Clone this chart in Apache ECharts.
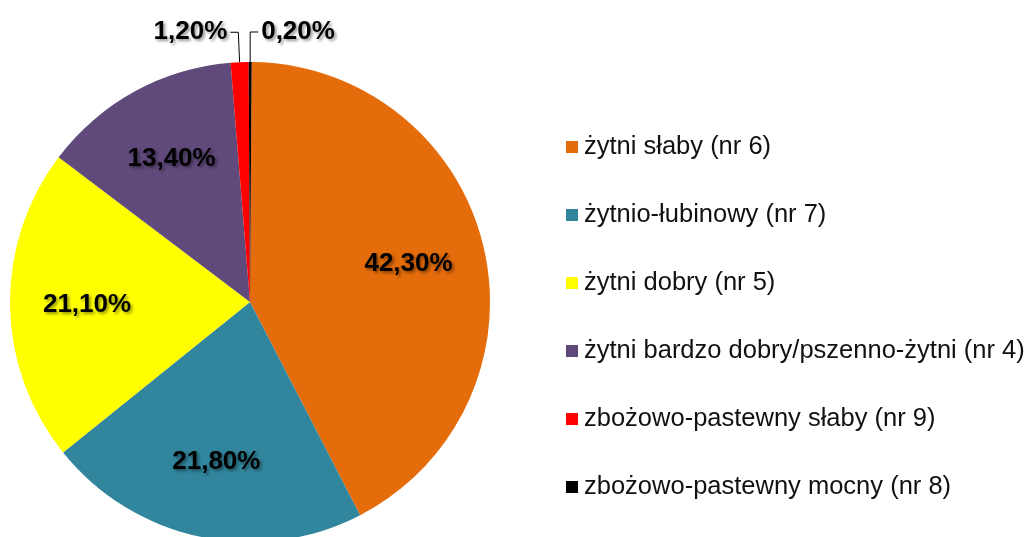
<!DOCTYPE html>
<html>
<head>
<meta charset="utf-8">
<script src="https://cdn.jsdelivr.net/npm/echarts@6/dist/echarts.min.js"></script>
<style>
  html, body { margin: 0; padding: 0; background: #fff; }
  #chart { width: 1027px; height: 537px; }
</style>
</head>
<body>
<div id="chart"></div>
<script>
// kompleksy glebowe - udzial procentowy
const categories = [
  'żytni słaby (nr 6)',
  'żytnio-łubinowy (nr 7)',
  'żytni dobry (nr 5)',
  'żytni bardzo dobry/pszenno-żytni (nr 4)',
  'zbożowo-pastewny słaby (nr 9)',
  'zbożowo-pastewny mocny (nr 8)'
];
const values = [42.3, 21.8, 21.1, 13.4, 1.2, 0.2];
const colors = ['#E46C0A', '#31859C', '#FFFF00', '#604A7B', '#FF0000', '#000000'];
// which slices get their label inside (big ones) vs outside with a line
const insideLabel = [true, true, true, true, false, false];

const fmt = function (p) {
  return p.value.toFixed(2).replace('.', ',') + '%';
};

const labelFont = {
  fontFamily: 'Liberation Sans, Arial, sans-serif',
  fontSize: 26,
  fontWeight: 'bold',
  color: '#000',
  textShadowColor: 'rgba(0,0,0,0.4)',
  textShadowBlur: 3,
  textShadowOffsetX: 2,
  textShadowOffsetY: 2
};

const pieData = categories.map(function (name, i) {
  return {
    name: name,
    value: values[i],
    itemStyle: { color: colors[i] },
    label: { show: !insideLabel[i] },
    labelLine: { show: !insideLabel[i] }
  };
});

// transparent ring on top only to place the inside labels further out
const labelData = categories.map(function (name, i) {
  return {
    name: name,
    value: values[i],
    label: { show: insideLabel[i] }
  };
});

const myChart = echarts.init(document.getElementById('chart'));
const option = {
  animation: false,
  legend: {
    orient: 'vertical',
    left: 561,
    top: 129,
    data: categories,
    icon: 'rect',
    itemWidth: 12,
    itemHeight: 12,
    itemGap: 42,
    textStyle: {
      fontFamily: 'Liberation Sans, Arial, sans-serif',
      fontSize: 25.5,
      color: '#111',
      padding: [0, 0, 0, 1]
    }
  },
  series: [
    {
      name: 'gleby',
      type: 'pie',
      center: [250, 302],
      radius: 240,
      startAngle: 89.6,
      clockwise: true,
      avoidLabelOverlap: false,
      data: pieData,
      label: Object.assign({ position: 'outside', formatter: fmt, distanceToLabelLine: 3 }, labelFont),
      labelLine: {
        length: 30,
        length2: 8,
        smooth: false,
        lineStyle: { color: '#000', width: 1 }
      }
    },
    {
      name: 'etykiety',
      type: 'pie',
      center: [250, 302],
      radius: [80, 240],
      startAngle: 89.6,
      silent: true,
      itemStyle: { color: 'rgba(0,0,0,0)' },
      data: labelData,
      label: Object.assign({ position: 'inside', formatter: fmt }, labelFont),
      labelLine: { show: false }
    }
  ]
};
myChart.setOption(option);
</script>
</body>
</html>
